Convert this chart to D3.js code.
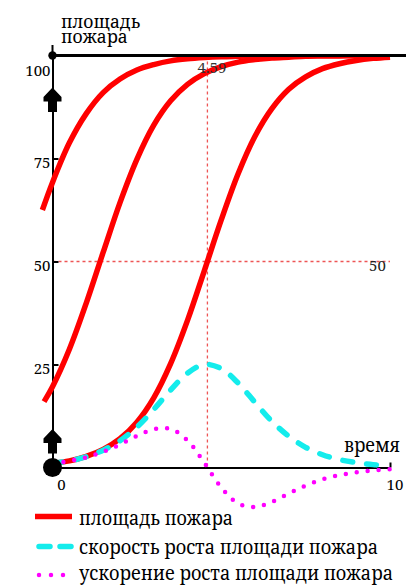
<!DOCTYPE html>
<html>
<head>
<meta charset="utf-8">
<script src="https://cdn.jsdelivr.net/npm/d3@7"></script>
<style>
  html, body { margin: 0; padding: 0; background: #fff; }
  svg { display: block; }
</style>
</head>
<body>
<svg id="chart" width="406" height="588"></svg>
<script>
// ---------------- data ----------------
const timeX = [0, 0.5, 1, 1.5, 2, 2.5, 3, 3.5, 4, 4.5, 5, 5.5, 6, 6.5, 7, 7.5, 8, 8.5, 9, 9.5, 10];
const areaMain = [1.0, 1.6, 2.7, 4.4, 7.0, 11.0, 16.9, 25.2, 35.7, 47.8, 60.1, 71.3, 80.4, 87.1, 91.8, 94.8, 96.8, 98.0, 98.8, 99.3, 99.6];
const areaMidX = [-0.25, 0, 0.5, 1, 1.5, 2, 2.5, 3, 3.5, 4, 4.5, 5, 5.5, 6, 6.5, 7, 7.5, 8, 8.5, 9, 9.5, 10];
const areaMid = [16.0, 19.6, 28.7, 39.9, 52.2, 64.3, 74.8, 83.1, 89.0, 93.0, 95.6, 97.3, 98.4, 99.0, 99.4, 99.6, 99.8, 99.86, 99.9, 99.95, 99.97, 99.98];
const areaEarlyX = [-0.3, 0, 0.5, 1, 1.5, 2, 2.5, 3, 3.5, 4, 4.5, 5, 5.5, 6, 6.5, 7, 7.5, 8, 8.5, 9, 9.5, 10];
const areaEarly = [62.5, 69.2, 78.8, 85.9, 91.0, 94.3, 96.5, 97.8, 98.7, 99.2, 99.5, 99.7, 99.8, 99.88, 99.93, 99.95, 99.97, 99.98, 99.99, 99.99, 100, 100];
const speed = [1.0, 1.6, 2.6, 4.2, 6.5, 9.8, 14.1, 18.8, 22.9, 25.0, 24.0, 20.5, 15.8, 11.2, 7.6, 4.9, 3.1, 1.9, 1.2, 0.7, 0.45];
const accel = [0.98, 1.57, 2.48, 3.80, 5.58, 7.64, 9.30, 9.36, 6.58, 1.12, -4.84, -8.72, -9.58, -8.34, -6.31, -4.39, -2.90, -1.85, -1.16, -0.72, -0.44];

const yTicks = [25, 50, 75, 100];
const xTicks = [0, 10];
const markerX = 4.59;
const markerY = 50;
const markerXLabel = "4.59";
const markerYLabel = "50";
const dotPoints = [{x: 0, y: 100, big: false}, {x: 0, y: 0, big: true}];
const arrowPoints = [{x: 0, y: 89.2}, {x: 0, y: 6.3}];
const yTitle = ["площадь", "пожара"];
const xTitle = "время";
const legendLabels = ["площадь пожара", "скорость роста площади пожара", "ускорение роста площади пожара"];

// ---------------- drawing ----------------
const FONT = "'Noto Serif', serif";
const svg = d3.select("#chart").style("font-family", FONT);
const x = d3.scaleLinear().domain([0, 10]).range([52.5, 390]);
const y = d3.scaleLinear().domain([0, 100]).range([467.5, 55.5]);

const RED = "#ff0000", CYAN = "#14ecec", MAG = "#ff00ff";

// squeeze a text to a measured width if it is wider (serif metrics differ)
function fit(sel, w) {
  const n = sel.node();
  if (n.getComputedTextLength() > w) sel.attr("textLength", w).attr("lengthAdjust", "spacingAndGlyphs");
  return sel;
}

svg.append("defs").append("clipPath").attr("id", "plotclip")
  .append("rect").attr("x", 0).attr("y", y(100)).attr("width", 406).attr("height", 588 - y(100));

// crosshair markers (light red dotted)
svg.append("line")
  .attr("x1", x(markerX)).attr("x2", x(markerX))
  .attr("y1", y(100)).attr("y2", y(0))
  .attr("stroke", "#ee5555").attr("stroke-width", 1.3).attr("stroke-dasharray", "3,3");
svg.append("line")
  .attr("x1", x(0)).attr("x2", x(10))
  .attr("y1", y(markerY)).attr("y2", y(markerY))
  .attr("stroke", "#ee5555").attr("stroke-width", 1.3).attr("stroke-dasharray", "3,3");

// axes
const yAxis = d3.axisLeft(y).tickValues(yTicks).tickSizeInner(-6).tickSizeOuter(0).tickPadding(2).tickFormat(d3.format("d"));
const gy = svg.append("g").attr("transform", `translate(${x(0)},0)`).call(yAxis);
gy.attr("font-family", null).attr("font-size", null);
gy.select(".domain").attr("stroke", "#000").attr("stroke-width", 2);
gy.selectAll(".tick line").attr("stroke", "#000").attr("stroke-width", 2);
gy.selectAll(".tick text").style("font-family", FONT).attr("font-size", 15).attr("fill", "#000")
  .attr("dy", d => d === 100 ? 19.5 : 9).attr("x", -2);
gy.selectAll(".tick").filter(d => d === 100).select("line").remove();
// axis extension above the top
svg.append("line").attr("x1", x(0)).attr("x2", x(0)).attr("y1", 45).attr("y2", y(100))
  .attr("stroke", "#000").attr("stroke-width", 2);

const xAxis = d3.axisBottom(x).tickValues(xTicks).tickSizeInner(-5).tickSizeOuter(0).tickPadding(14).tickFormat(d3.format("d"));
const gx = svg.append("g").attr("transform", `translate(0,${y(0)})`).call(xAxis);
gx.attr("font-family", null).attr("font-size", null);
gx.select(".domain").attr("stroke", "#000").attr("stroke-width", 2);
gx.selectAll(".tick line").attr("stroke", "#000").attr("stroke-width", 2);
gx.selectAll(".tick text").style("font-family", FONT).attr("font-size", 15).attr("fill", "#000")
  .attr("y", 22).attr("dy", 0)
  .attr("x", d => d === 0 ? 8.5 : 4.5);

// curves
const plot = svg.append("g").attr("clip-path", "url(#plotclip)");
const line = d3.line().x(d => x(d[0])).y(d => y(d[1])).curve(d3.curveCatmullRom.alpha(0.5));
const zip = (a, b) => a.map((v, i) => [v, b[i]]);

[zip(areaEarlyX, areaEarly), zip(areaMidX, areaMid), zip(timeX, areaMain)].forEach(pts => {
  plot.append("path").attr("d", line(pts)).attr("fill", "none")
    .attr("stroke", RED).attr("stroke-width", 5.5);
});
plot.append("path").attr("d", line(zip(timeX, speed))).attr("fill", "none")
  .attr("stroke", CYAN).attr("stroke-width", 5.5).attr("stroke-linecap", "round")
  .attr("stroke-dasharray", "10,14");
plot.append("path").attr("d", line(zip(timeX, accel))).attr("fill", "none")
  .attr("stroke", MAG).attr("stroke-width", 4.5).attr("stroke-linecap", "round")
  .attr("stroke-dasharray", "0,11");

// top black line at 100 (above curves)
svg.append("line").attr("x1", x(0)).attr("x2", 406).attr("y1", y(100)).attr("y2", y(100))
  .attr("stroke", "#000").attr("stroke-width", 3.2);

// black markers
svg.selectAll("circle.dot").data(dotPoints).join("circle").attr("class", "dot")
  .attr("cx", d => x(d.x)).attr("cy", d => y(d.y)).attr("r", d => d.big ? 9.5 : 4.2).attr("fill", "#000");
const arrowPath = "M0,-12.5 L9,-3 L9,1.5 L4.5,1.5 L4.5,12 L-4.5,12 L-4.5,1.5 L-9,1.5 L-9,-3 Z";
svg.selectAll("path.arrow").data(arrowPoints).join("path").attr("class", "arrow")
  .attr("d", arrowPath).attr("transform", d => `translate(${x(d.x)},${y(d.y)})`).attr("fill", "#000");

// marker labels
svg.append("text").attr("x", x(markerX) + 4.5).attr("y", 73).attr("text-anchor", "middle")
  .attr("font-size", 15).attr("fill", "#333").text(markerXLabel);
svg.append("text").attr("x", 377.5).attr("y", y(markerY) + 9).attr("text-anchor", "middle")
  .attr("font-size", 15).attr("fill", "#222").text(markerYLabel);

// axis titles (y title as one text with two lines)
const titleW = [84, 72];
const yt = svg.append("text").attr("font-size", 17.5).attr("fill", "#000");
yTitle.forEach((t, i) => {
  const ts = yt.append("tspan").attr("x", 61).attr("y", 27.5 + i * 15.5).text(t);
  const w = ts.node().getComputedTextLength();
  if (w > titleW[i]) ts.attr("textLength", titleW[i]).attr("lengthAdjust", "spacingAndGlyphs");
});
fit(svg.append("text").attr("x", 344).attr("y", 452).attr("font-size", 19).attr("fill", "#000").text(xTitle), 56);

// legend
const legY = [516.5, 546.5, 575];
const legBase = [525, 553.5, 580];
const legW = [154, 299, 314];
const lg = svg.append("g");
lg.append("line").attr("x1", 35).attr("x2", 72).attr("y1", legY[0]).attr("y2", legY[0])
  .attr("stroke", RED).attr("stroke-width", 5.5);
lg.append("line").attr("x1", 39).attr("x2", 72).attr("y1", legY[1]).attr("y2", legY[1])
  .attr("stroke", CYAN).attr("stroke-width", 5.5).attr("stroke-linecap", "round").attr("stroke-dasharray", "11,10");
lg.append("line").attr("x1", 39).attr("x2", 64).attr("y1", legY[2]).attr("y2", legY[2])
  .attr("stroke", MAG).attr("stroke-width", 4.5).attr("stroke-linecap", "round").attr("stroke-dasharray", "0,12");
legendLabels.forEach((t, i) => {
  fit(lg.append("text").attr("x", 79).attr("y", legBase[i]).attr("font-size", 19).attr("fill", "#000").text(t), legW[i]);
});
</script>
</body>
</html>
